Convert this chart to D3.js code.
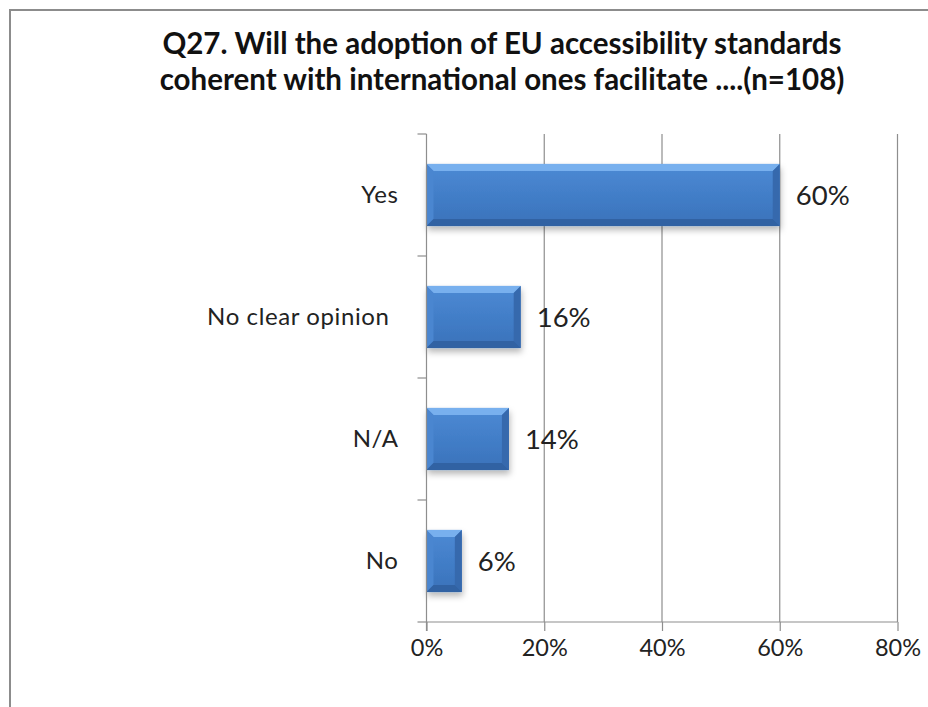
<!DOCTYPE html>
<html>
<head>
<meta charset="utf-8">
<script src="https://cdn.jsdelivr.net/npm/d3@7"></script>
<style>
  body { margin: 0; background: #fff; }
  svg { display: block; }
</style>
</head>
<body>
<svg id="chart" width="928" height="707"></svg>
<script>
const categories = ["Yes", "No clear opinion", "N/A", "No"];
const values = [60, 16, 14, 6];
const tickValues = [0, 20, 40, 60, 80];
const titleLines = [
  "Q27. Will the adoption of EU accessibility standards",
  "coherent with international ones facilitate ....(n=108)"
];

const svg = d3.select("#chart");
const W = 928, H = 707;
const margin = { left: 426.5, right: 30.5, top: 134, bottom: 85 };
const font = "Lato, Carlito, 'Open Sans', sans-serif";

// outer frame
svg.append("rect")
  .attr("x", 10).attr("y", 10)
  .attr("width", W).attr("height", H)
  .attr("fill", "#fff")
  .attr("stroke", "#8c8c8c").attr("stroke-width", 2);

const defs = svg.append("defs");
const grad = defs.append("linearGradient")
  .attr("id", "barGrad").attr("x1", 0).attr("y1", 0).attr("x2", 0).attr("y2", 1);
[[0, "#4d8ad4"], [0.5, "#427ec8"], [1, "#3a72ba"]]
  .forEach(([o, c]) => grad.append("stop").attr("offset", o).attr("stop-color", c));
const shadow = defs.append("filter").attr("id", "shadow")
  .attr("x", "-10%").attr("y", "-20%").attr("width", "130%").attr("height", "160%");
shadow.append("feDropShadow").attr("dx", 1).attr("dy", 4).attr("stdDeviation", 3)
  .attr("flood-color", "#000").attr("flood-opacity", 0.28);

const x = d3.scaleLinear().domain([0, 80]).range([margin.left, W - margin.right]);
const y = d3.scaleBand().domain(categories).range([margin.top, H - margin.bottom])
  .paddingInner(0.49).paddingOuter(0.245);

const axisColor = "#8e8e8e";

// vertical gridlines
svg.append("g").selectAll("line")
  .data(tickValues.slice(1))
  .join("line")
  .attr("x1", d => x(d)).attr("x2", d => x(d))
  .attr("y1", margin.top).attr("y2", H - margin.bottom)
  .attr("stroke", axisColor).attr("stroke-width", 1.2);

// bars with a bevelled frame
const bars = svg.append("g");
categories.forEach((c, i) => {
  const x0 = x(0), x1 = x(values[i]);
  const y0 = y(c), bh = y.bandwidth(), y1 = y0 + bh;
  const b = Math.min(7, (x1 - x0) / 3);
  const g = bars.append("g");
  g.append("rect")
    .attr("x", x0).attr("y", y0)
    .attr("width", x1 - x0).attr("height", bh)
    .attr("fill", "url(#barGrad)")
    .attr("filter", "url(#shadow)");
  // top
  g.append("path")
    .attr("d", `M${x0},${y0} L${x1},${y0} L${x1 - b},${y0 + b} L${x0 + b},${y0 + b} Z`)
    .attr("fill", "#78b0ee");
  // left
  g.append("path")
    .attr("d", `M${x0},${y0} L${x0 + b},${y0 + b} L${x0 + b},${y1 - b} L${x0},${y1} Z`)
    .attr("fill", "#4a86d0");
  // right
  g.append("path")
    .attr("d", `M${x1},${y0} L${x1 - b},${y0 + b} L${x1 - b},${y1 - b} L${x1},${y1} Z`)
    .attr("fill", "#3669ad");
  // bottom
  g.append("path")
    .attr("d", `M${x0},${y1} L${x0 + b},${y1 - b} L${x1 - b},${y1 - b} L${x1},${y1} Z`)
    .attr("fill", "#3162a3");
});

// value labels
svg.append("g").selectAll("text")
  .data(categories)
  .join("text")
  .attr("x", (d, i) => x(values[i]) + 16)
  .attr("y", d => y(d) + y.bandwidth() / 2)
  .attr("dy", "0.35em")
  .attr("font-family", font).attr("font-size", 27.5)
  .attr("fill", "#222")
  .text((d, i) => values[i] + "%");

// x axis
const xAxis = svg.append("g")
  .attr("transform", `translate(0,${H - margin.bottom})`)
  .call(d3.axisBottom(x).tickValues(tickValues).tickFormat(d => d + "%").tickSize(9).tickPadding(8));
xAxis.select(".domain").attr("stroke", axisColor).attr("stroke-width", 1.2)
  .attr("d", `M${x(0)},0H${x(80)}`);
xAxis.selectAll(".tick line").attr("stroke", axisColor).attr("stroke-width", 1.2);
xAxis.selectAll(".tick text")
  .attr("font-family", font).attr("font-size", 23.5).attr("fill", "#222");

// y axis: tick marks on band boundaries
const yAxisG = svg.append("g");
yAxisG.append("line")
  .attr("x1", x(0)).attr("x2", x(0))
  .attr("y1", margin.top).attr("y2", H - margin.bottom + 9)
  .attr("stroke", axisColor).attr("stroke-width", 1.2);
const step = y.step();
const bounds = d3.range(categories.length + 1).map(i => margin.top + i * step);
yAxisG.selectAll(".bt").data(bounds).join("line")
  .attr("x1", x(0) - 9).attr("x2", x(0))
  .attr("y1", d => d).attr("y2", d => d)
  .attr("stroke", axisColor).attr("stroke-width", 1.2);
yAxisG.selectAll("text").data(categories).join("text")
  .attr("x", d => d.length > 5 ? x(0) - 37 : x(0) - 28)
  .attr("y", d => y(d) + y.bandwidth() / 2)
  .attr("dy", "0.35em")
  .attr("text-anchor", "end")
  .attr("font-family", font).attr("font-size", 24).attr("letter-spacing", 0.6)
  .attr("fill", "#222")
  .text(d => d);

// title
svg.append("g").selectAll("text").data(titleLines).join("text")
  .attr("x", 502)
  .attr("y", (d, i) => 54 + i * 36)
  .attr("text-anchor", "middle")
  .attr("font-family", font).attr("font-weight", "bold").attr("font-size", 29.5)
  .attr("fill", "#111")
  .text(d => d);
</script>
</body>
</html>
